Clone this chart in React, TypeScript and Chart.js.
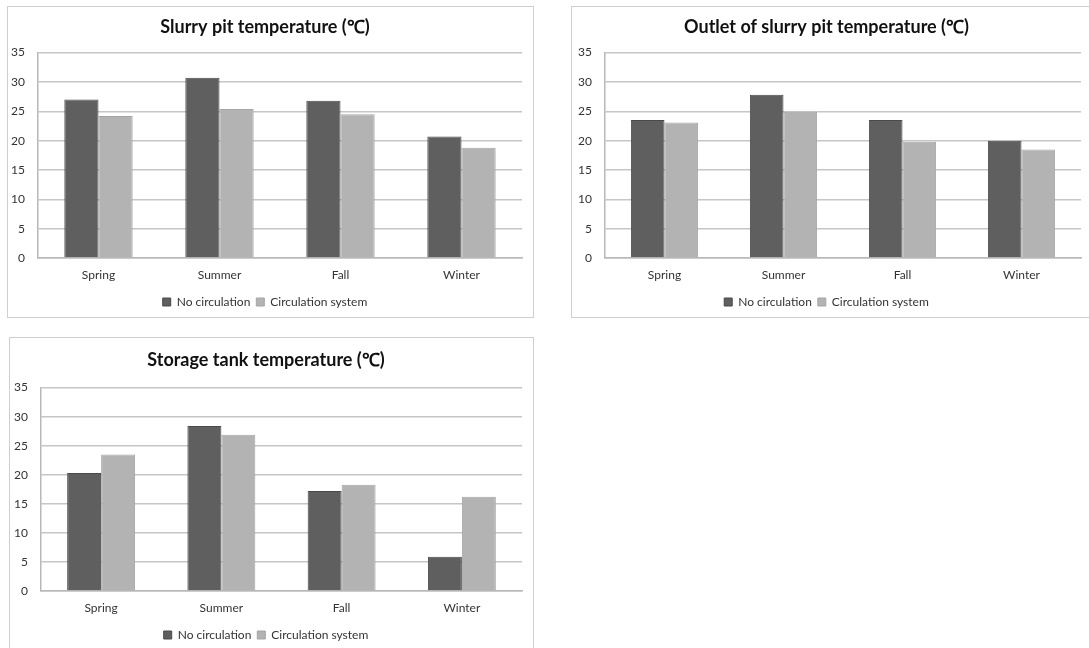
import React, { useEffect, useRef } from 'react';
import { Chart, registerables } from 'chart.js';

Chart.register(...registerables);

const CATEGORIES = ['Spring', 'Summer', 'Fall', 'Winter'];
const SERIES_NAMES = ['No circulation', 'Circulation system'];

const SLURRY_NO_CIRC = [27.0, 30.7, 26.8, 20.7];
const SLURRY_CIRC = [24.2, 25.4, 24.5, 18.8];

const OUTLET_NO_CIRC = [23.5, 27.8, 23.5, 20.0];
const OUTLET_CIRC = [23.1, 24.9, 19.8, 18.5];

const STORAGE_NO_CIRC = [20.3, 28.4, 17.2, 5.9];
const STORAGE_CIRC = [23.5, 26.9, 18.3, 16.2];

const Y_MAX = 35;
const Y_STEP = 5;

const FONT = 'Lato, "Open Sans", sans-serif';
const DARK = '#5f5f5f';
const LIGHT = '#b3b3b3';

type PanelProps = {
  title: string;
  noCirc: number[];
  circ: number[];
  left: number;
  top: number;
  boxW: number;
  boxH: number;
  axisW: number;
  padRight: number;
  padBottom: number;
  titleTop: number;
  titleBottom: number;
};

const CANVAS_W = 525;
const CANVAS_H = 320;

function Panel(p: PanelProps) {
  const ref = useRef<HTMLCanvasElement | null>(null);
  useEffect(() => {
    if (!ref.current) return;
    const chart = new Chart(ref.current, {
      type: 'bar',
      data: {
        labels: CATEGORIES,
        datasets: [
          {
            label: SERIES_NAMES[0],
            data: p.noCirc,
            backgroundColor: DARK,
            borderColor: '#4a4a4a',
            borderWidth: 1,
          },
          {
            label: SERIES_NAMES[1],
            data: p.circ,
            backgroundColor: LIGHT,
            borderColor: '#a5a5a5',
            borderWidth: 1,
          },
        ],
      },
      options: {
        responsive: false,
        animation: false,
        layout: { padding: { left: 0, right: p.padRight, top: 0, bottom: p.padBottom } },
        datasets: {
          bar: { categoryPercentage: 0.565, barPercentage: 1 },
        },
        scales: {
          x: {
            grid: { display: false, drawTicks: false },
            border: { display: true, color: '#b8b8b8', width: 1.5 },
            ticks: { padding: 10, color: '#333', font: { family: FONT, size: 12 } },
            afterFit: (s: any) => {
              s.height = 32;
            },
          },
          y: {
            min: 0,
            max: Y_MAX,
            ticks: { stepSize: Y_STEP, padding: 13, color: '#333', font: { family: FONT, size: 12 } },
            grid: { color: '#c6c6c6', lineWidth: 1.5, drawTicks: false },
            border: { display: true, color: '#b8b8b8', width: 1.5 },
            afterFit: (s: any) => {
              s.width = p.axisW;
            },
          },
        },
        plugins: {
          title: {
            display: true,
            text: p.title,
            color: '#111',
            font: { family: FONT, size: 18, weight: 'bold' },
            padding: { top: p.titleTop, bottom: p.titleBottom },
          },
          legend: {
            position: 'bottom',
            labels: {
              boxWidth: 8,
              boxHeight: 8,
              padding: 6,
              color: '#333',
              font: { family: FONT, size: 12 },
            },
          },
          tooltip: { enabled: false },
        },
      },
    });
    return () => chart.destroy();
  }, []);

  return (
    <>
      <div
        style={{
          position: 'absolute',
          left: p.left,
          top: p.top,
          width: p.boxW,
          height: p.boxH,
          border: '1px solid #cfcfcf',
          boxSizing: 'border-box',
          background: '#fff',
        }}
      />
      <canvas
        ref={ref}
        width={CANVAS_W}
        height={CANVAS_H}
        style={{ position: 'absolute', left: p.left + 1, top: p.top + 1, width: CANVAS_W, height: CANVAS_H }}
      />
    </>
  );
}

export default function App() {
  return (
    <div
      style={{
        position: 'absolute',
        left: 0,
        top: 0,
        width: 1089,
        height: 648,
        overflow: 'hidden',
        background: '#fff',
      }}
    >
      <Panel
        title="Slurry pit temperature (℃)"
        noCirc={SLURRY_NO_CIRC}
        circ={SLURRY_CIRC}
        left={7}
        top={6}
        boxW={527}
        boxH={312}
        axisW={30}
        padRight={11}
        padBottom={9}
        titleTop={9}
        titleBottom={15}
      />
      <Panel
        title="Outlet of slurry pit temperature (℃)"
        noCirc={OUTLET_NO_CIRC}
        circ={OUTLET_CIRC}
        left={571}
        top={6}
        boxW={527}
        boxH={312}
        axisW={33}
        padRight={16}
        padBottom={9}
        titleTop={9}
        titleBottom={15}
      />
      <Panel
        title="Storage tank temperature (℃)"
        noCirc={STORAGE_NO_CIRC}
        circ={STORAGE_CIRC}
        left={9}
        top={337}
        boxW={525}
        boxH={320}
        axisW={31}
        padRight={13}
        padBottom={7}
        titleTop={11}
        titleBottom={17}
      />
    </div>
  );
}
